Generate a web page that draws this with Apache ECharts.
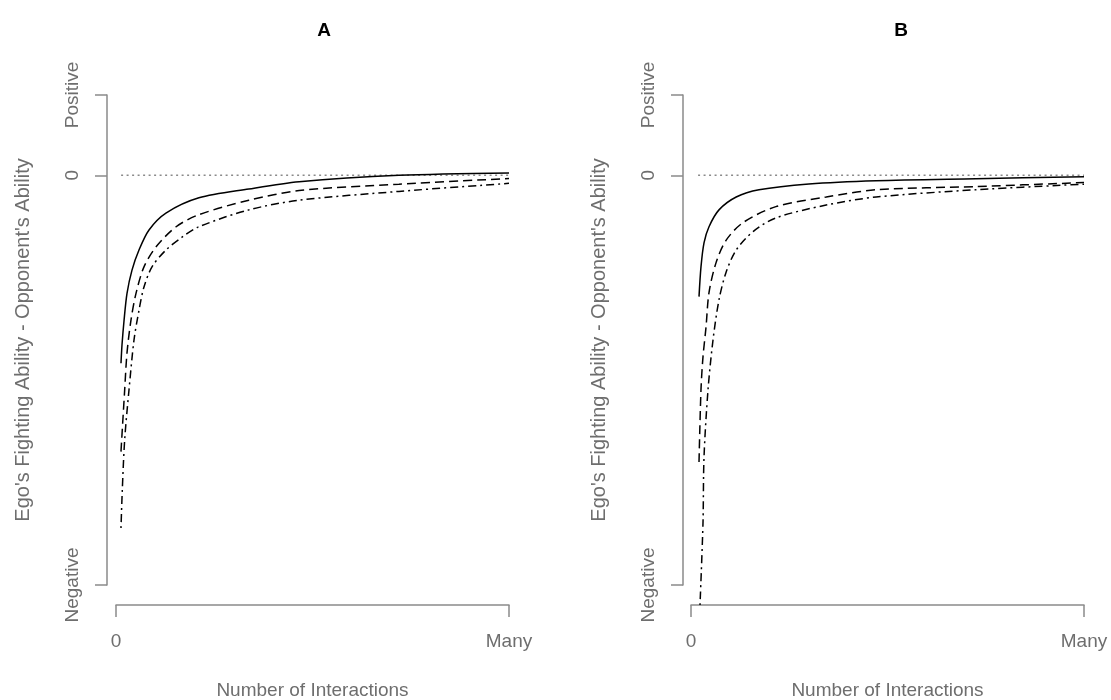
<!DOCTYPE html>
<html>
<head>
<meta charset="utf-8"/>
<title></title>
<script src="https://cdn.jsdelivr.net/npm/echarts@6/dist/echarts.min.js"></script>
</head>
<body style="margin:0;background:#fff;">
<div id="chart" style="width:1111px;height:700px;"></div>
<script type="text/javascript">

// x: 0 .. 100 ("Many"), y: -5.1 ("Negative") .. 1 ("Positive")
var xTicks = [0, 100];
var xTickLabels = ['0', 'Many'];
var yTicks = [-5.1, 0, 1];
var yTickLabels = ['Negative', '0', 'Positive'];
var zeroLine = [[1.3, 0], [100, 0]];
var zeroLineB = [[1.8, 0], [100, 0]];

var aSolid = [[1.27, -2.34], [1.53, -2.11], [2.04, -1.81], [2.8, -1.47], [4.07, -1.18], [5.85, -0.93],
    [8.4, -0.68], [12.7, -0.47], [21.1, -0.28], [33.8, -0.17], [46.6, -0.08], [72, 0], [100, 0.03]];
var aDashed = [[1.27, -3.44], [1.45, -3.29], [2.21, -2.67], [2.8, -2.21], [3.82, -1.8], [5.09, -1.47],
    [7.12, -1.14], [10.2, -0.89], [15.3, -0.64], [21.1, -0.49], [33.8, -0.31], [46.6, -0.19], [72, -0.11], [100, -0.04]];
var aDotDash = [[1.27, -4.39], [1.6, -3.92], [2.21, -3.29], [3.31, -2.67], [4.58, -2.05], [5.85, -1.68],
    [7.12, -1.39], [9.16, -1.14], [12.7, -0.93], [16.8, -0.77], [21.1, -0.64], [33.8, -0.43], [46.6, -0.31],
    [72, -0.2], [100, -0.1]];

var bSolid = [[2.04, -1.51], [2.54, -1.14], [3.31, -0.84], [4.58, -0.64], [7.12, -0.43], [11.5, -0.27],
    [17.3, -0.18], [30, -0.108], [47.1, -0.067], [72.5, -0.042], [100, -0.017]];
var bDashed = [[2.04, -3.57], [2.54, -2.67], [3.05, -2.26], [3.82, -1.89], [4.58, -1.46], [6.36, -1.09],
    [8.91, -0.81], [13.2, -0.59], [21.6, -0.39], [34.4, -0.27], [47.1, -0.18], [72.5, -0.14], [100, -0.09]];
var bDotDash = [[2.29, -5.35], [3.05, -4.33], [3.31, -3.51], [4.33, -2.67], [5.6, -2.05], [7.12, -1.55],
    [8.91, -1.21], [11.5, -0.93], [15.8, -0.7], [21.6, -0.53], [34.4, -0.37], [47.1, -0.27], [72.5, -0.18],
    [100, -0.11]];

var font = '"Liberation Sans", Arial, Helvetica, sans-serif';
var axisGray = '#8a8a8a';
var textGray = '#6e6e6e';

function makeX(idx) {
    return {
        type: 'value', gridIndex: idx, min: 0, max: 100, interval: 100, offset: 20,
        name: 'Number of Interactions', nameLocation: 'middle', nameGap: 76,
        nameTextStyle: {color: textGray, fontSize: 19, fontFamily: font},
        axisLine: {show: true, onZero: false, lineStyle: {color: axisGray, width: 1.5}},
        axisTick: {show: true, length: 12, lineStyle: {color: axisGray, width: 1.5}},
        axisLabel: {
            color: textGray, fontSize: 19, fontFamily: font, margin: 27,
            showMinLabel: true, showMaxLabel: true,
            formatter: function (v) { return xTickLabels[xTicks.indexOf(v)]; }
        },
        splitLine: {show: false}
    };
}

function makeY(idx, off) {
    return {
        type: 'value', gridIndex: idx, min: yTicks[0], max: yTicks[2], offset: off,
        name: "Ego's Fighting Ability - Opponent's Ability", nameLocation: 'middle', nameGap: 74,
        nameRotate: 90,
        nameTextStyle: {color: textGray, fontSize: 20, fontFamily: font},
        axisLine: {show: true, onZero: false, lineStyle: {color: axisGray, width: 1.5}},
        axisTick: {show: true, length: 12, customValues: yTicks, lineStyle: {color: axisGray, width: 1.5}},
        axisLabel: {
            color: textGray, fontSize: 19, fontFamily: font, margin: 25, rotate: 90,
            customValues: yTicks, showMinLabel: true, showMaxLabel: true,
            formatter: function (v) {
                for (var i = 0; i < yTicks.length; i++) {
                    if (Math.abs(v - yTicks[i]) < 1e-6) return yTickLabels[i];
                }
                return '';
            }
        },
        splitLine: {show: false}
    };
}

function curve(idx, data, dash) {
    return {
        type: 'line', xAxisIndex: idx, yAxisIndex: idx, data: data,
        showSymbol: false, symbol: 'none', smooth: 0.3, clip: false,
        lineStyle: {color: '#000', width: 1.5, type: dash}
    };
}

function zero(idx, data) {
    return {
        type: 'line', xAxisIndex: idx, yAxisIndex: idx, data: data,
        showSymbol: false, symbol: 'none',
        lineStyle: {color: '#8a8a8a', width: 1.5, type: [2, 3.5]}
    };
}

var chart = echarts.init(document.getElementById('chart'));
chart.setOption({
    animation: false,
    backgroundColor: '#fff',
    title: [
        {text: 'A', left: 319, top: 16, textAlign: 'center',
            textStyle: {fontSize: 19, fontWeight: 'bold', color: '#000', fontFamily: font}},
        {text: 'B', left: 896, top: 16, textAlign: 'center',
            textStyle: {fontSize: 19, fontWeight: 'bold', color: '#000', fontFamily: font}}
    ],
    grid: [
        {left: 116, top: 95, width: 393, height: 490, outerBoundsMode: 'none', containLabel: false},
        {left: 691, top: 95, width: 393, height: 490, outerBoundsMode: 'none', containLabel: false}
    ],
    xAxis: [makeX(0), makeX(1)],
    yAxis: [makeY(0, 9), makeY(1, 8)],
    series: [
        zero(0, zeroLine),
        curve(0, aSolid, 'solid'),
        curve(0, aDashed, [9, 5]),
        curve(0, aDotDash, [2, 4, 8, 4]),
        zero(1, zeroLineB),
        curve(1, bSolid, 'solid'),
        curve(1, bDashed, [9, 5]),
        curve(1, bDotDash, [2, 4, 8, 4])
    ]
});

</script>
</body>
</html>
